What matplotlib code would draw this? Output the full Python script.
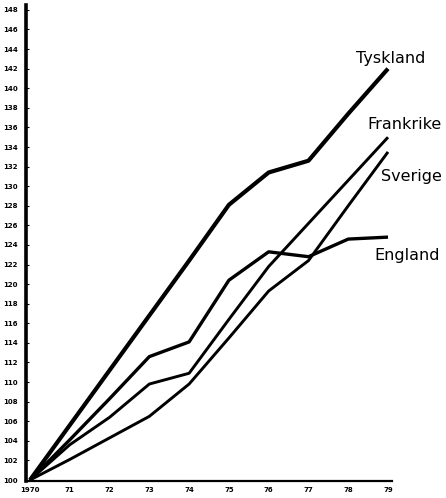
import matplotlib
matplotlib.use("Agg")
import matplotlib.pyplot as plt

years = [1970, 1971, 1972, 1973, 1974, 1975, 1976, 1977, 1978, 1979]
tyskland = [100, 105.6, 111.2, 116.8, 122.4, 128.1, 131.4, 132.6, 137.4, 142.0]
frankrike = [100, 103.6, 106.4, 109.8, 110.9, 116.4, 121.8, 126.2, 130.6, 135.0]
sverige = [100, 102.1, 104.3, 106.5, 109.8, 114.5, 119.3, 122.4, 128.0, 133.5]
england = [100, 104.1, 108.3, 112.6, 114.1, 120.4, 123.3, 122.8, 124.6, 124.8]

series = [("Tyskland", tyskland, 3.0), ("Frankrike", frankrike, 2.1),
          ("Sverige", sverige, 2.1), ("England", england, 2.4)]
label_pos = {"Tyskland": (1979.07, 143.0), "Frankrike": (1979.42, 136.3),
             "Sverige": (1979.6, 131.0), "England": (1979.47, 122.9)}

xtick_labels = ["1970", "71", "72", "73", "74", "75", "76", "77", "78", "79"]
yticks = list(range(100, 149, 2))

fig = plt.figure(figsize=(4.46, 4.98), dpi=100)
ax = fig.add_axes([26/446, 17/498, 366/446, 476/498])

for name, vals, lw in series:
    ax.plot(years, vals, color="black", lw=lw, solid_capstyle="butt", solid_joinstyle="round")
    x, y = label_pos[name]
    ax.text(x, y, name, ha="center", va="center", fontsize=11.5,
            family="DejaVu Sans", fontweight="medium", clip_on=False)

ax.set_xlim(1969.9, 1979.1)
ax.set_ylim(99.9, 148.5)
ax.set_yticks(yticks)
ax.set_yticklabels([str(v) for v in yticks], fontsize=5, fontweight="bold")
ax.set_xticks(years)
ax.set_xticklabels(xtick_labels, fontsize=5, fontweight="bold")
ax.tick_params(axis="y", direction="in", length=2, width=0.8, pad=6)
ax.tick_params(axis="x", length=0, pad=4)
for s in ["top", "right"]:
    ax.spines[s].set_visible(False)
ax.spines["left"].set_linewidth(2.6)
ax.spines["bottom"].set_linewidth(1.6)

fig.savefig("out.png", dpi=100)
